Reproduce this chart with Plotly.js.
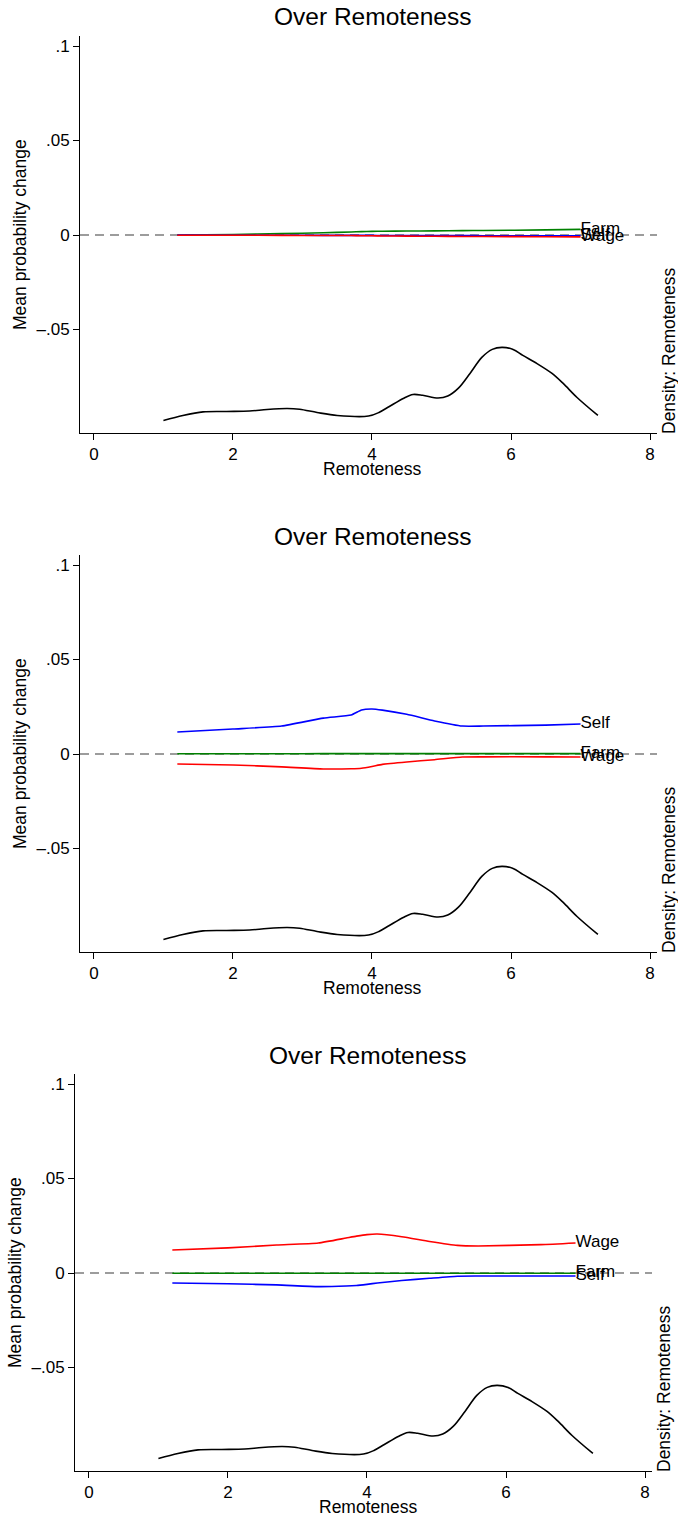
<!DOCTYPE html>
<html>
<head>
<meta charset="utf-8">
<script src="https://cdn.plot.ly/plotly-3.0.1.min.js"></script>
<style>html,body{margin:0;padding:0;background:#fff;}#chart{width:678px;height:1519px;}</style>
</head>
<body>
<div id="chart"></div>
<script>
// ---- data ----
const densX = [1.0, 1.28, 1.57, 1.91, 2.24, 2.49, 2.78, 2.96, 3.21, 3.50, 3.95, 4.10, 4.25, 4.45, 4.59, 4.73, 4.95, 5.09, 5.24, 5.41, 5.58, 5.73, 5.87, 6.03, 6.17, 6.37, 6.59, 6.75, 6.95, 7.25];
const densY = [0.060, 0.085, 0.103, 0.105, 0.107, 0.115, 0.120, 0.116, 0.100, 0.085, 0.082, 0.100, 0.130, 0.170, 0.190, 0.186, 0.172, 0.182, 0.220, 0.295, 0.375, 0.415, 0.425, 0.415, 0.385, 0.345, 0.295, 0.245, 0.175, 0.085];

const gridX = [1.2, 2.0, 2.7, 3.3, 3.7, 3.85, 4.0, 4.15, 4.5, 4.9, 5.3, 5.6, 6.5, 7.0];

// Panel 1
const p1Farm = [0.0000, 0.0003, 0.0007, 0.0012, 0.0016, 0.0018, 0.0019, 0.0020, 0.0021, 0.0022, 0.0023, 0.0024, 0.0027, 0.0030];
const p1Self = [0.0000, -0.0001, -0.0001, -0.0002, -0.0002, -0.0002, -0.0002, -0.0003, -0.0003, -0.0003, -0.0003, -0.0004, -0.0004, -0.0004];
const p1Wage = [-0.0001, -0.0001, -0.0002, -0.0003, -0.0003, -0.0004, -0.0004, -0.0005, -0.0006, -0.0007, -0.0008, -0.0008, -0.0009, -0.0010];
// Panel 2
const p2Farm = [0.0001, 0.0001, 0.0001, 0.0002, 0.0002, 0.0002, 0.0002, 0.0002, 0.0002, 0.0002, 0.0002, 0.0002, 0.0002, 0.0002];
const p2Self = [0.0116, 0.0132, 0.0148, 0.0190, 0.0206, 0.0233, 0.0238, 0.0232, 0.0210, 0.0175, 0.0148, 0.0148, 0.0153, 0.0159];
const p2Wage = [-0.0053, -0.0058, -0.0068, -0.0079, -0.0078, -0.0075, -0.0066, -0.0055, -0.0042, -0.0030, -0.0016, -0.0015, -0.0015, -0.0016];
// Panel 3
const p3Farm = [-0.0001, -0.0001, -0.0001, -0.0001, -0.0001, -0.0001, -0.0001, -0.0001, -0.0001, -0.0001, -0.0001, -0.0001, -0.0001, -0.0001];
const p3Self = [-0.0053, -0.0057, -0.0063, -0.0072, -0.0069, -0.0066, -0.0060, -0.0053, -0.0040, -0.0028, -0.0017, -0.0016, -0.0016, -0.0016];
const p3Wage = [0.0122, 0.0133, 0.0148, 0.0159, 0.0185, 0.0195, 0.0203, 0.0206, 0.0192, 0.0167, 0.0146, 0.0143, 0.0150, 0.0159];

const seriesNames = ["Farm", "Self", "Wage"];
const xTicks = [0, 2, 4, 6, 8];
const yTickVals = [-0.05, 0, 0.05, 0.1];
const yTickText = ["\u2013.05", "0", ".05", ".1"];
const chartTitle = "Over Remoteness";
const xTitle = "Remoteness";
const yTitle = "Mean probability change";
const y2Title = "Density: Remoteness";

// ---- layout geometry ----
const W = 678, H = 1519;
const FONT = "Liberation Sans, Arial, Helvetica, sans-serif";
const colors = {Farm: "#008000", Self: "#0000ff", Wage: "#ff0000"};
const panels = [
  {farm: p1Farm, self: p1Self, wage: p1Wage, left: 80, right: 657, zero: 235},
  {farm: p2Farm, self: p2Self, wage: p2Wage, left: 80, right: 657, zero: 754},
  {farm: p3Farm, self: p3Self, wage: p3Wage, left: 75, right: 652, zero: 1273}
];
const pxPerUnit = 1890;
const yTop = 0.1053, yBot = -0.1045;
const y2Max = 1.98;

const traces = [];
const layout = {
  width: W, height: H,
  margin: {l: 0, r: 0, t: 0, b: 0},
  paper_bgcolor: "#fff", plot_bgcolor: "#fff",
  showlegend: false,
  font: {family: FONT, size: 17, color: "#000"},
  annotations: [], shapes: []
};

panels.forEach((p, i) => {
  const n = i + 1;
  const xa = n === 1 ? "xaxis" : "xaxis" + n;
  const xr = n === 1 ? "x" : "x" + n;
  const yaN = 2 * i + 1, y2N = 2 * i + 2;
  const ya = yaN === 1 ? "yaxis" : "yaxis" + yaN;
  const yr = yaN === 1 ? "y" : "y" + yaN;
  const y2a = "yaxis" + y2N, y2r = "y" + y2N;

  const topPx = p.zero - yTop * pxPerUnit;
  const botPx = p.zero - yBot * pxPerUnit;
  const dom = [1 - botPx / H, 1 - topPx / H];

  layout[xa] = {
    domain: [p.left / W, p.right / W], anchor: yr, range: [-0.2, 8.1],
    tickvals: xTicks, ticks: "outside", ticklen: 6, tickcolor: "#000",
    showline: true, linecolor: "#000", linewidth: 1, showgrid: false, zeroline: false,
    tickfont: {family: FONT, size: 17}, fixedrange: true
  };
  layout[ya] = {
    domain: dom, anchor: xr, range: [yBot, yTop],
    tickvals: yTickVals, ticktext: yTickText, ticks: "outside", ticklen: 6, tickcolor: "#000",
    showline: true, linecolor: "#000", linewidth: 1, showgrid: false, zeroline: false,
    tickfont: {family: FONT, size: 17}, fixedrange: true
  };
  layout[y2a] = {
    domain: dom, anchor: xr, overlaying: yr, side: "right", range: [0, y2Max],
    showticklabels: false, ticks: "", showline: false, showgrid: false, zeroline: false, fixedrange: true
  };

  layout.shapes.push({type: "line", xref: xr + " domain", yref: yr, x0: 0, x1: 1, y0: 0, y1: 0,
    line: {color: "#3a3a3a", width: 1.2, dash: "9px,6px"}, layer: "below"});

  traces.push({x: densX, y: densY, xaxis: xr, yaxis: y2r, type: "scatter", mode: "lines",
    line: {color: "#000", width: 1.6, shape: "spline", smoothing: 0.9}, hoverinfo: "skip"});

  const vals = {Farm: p.farm, Self: p.self, Wage: p.wage};
  seriesNames.forEach(name => {
    const v = vals[name];
    traces.push({
      x: gridX, y: v, xaxis: xr, yaxis: yr, type: "scatter", mode: "lines+text",
      line: {color: colors[name], width: 1.6, shape: "spline", smoothing: 0.5},
      text: gridX.map((_, k) => k === gridX.length - 1 ? name : ""),
      textposition: "middle right", textfont: {family: FONT, size: 17, color: "#000"},
      cliponaxis: false, hoverinfo: "skip", name: name
    });
  });

  const cx = (p.left + p.right) / 2 / W;
  layout.annotations.push({text: chartTitle, xref: "paper", yref: "paper", x: cx + 4 / W, y: 1 - (p.zero - 218) / H,
    xanchor: "center", yanchor: "middle", showarrow: false, font: {family: FONT, size: 24.5}});
  layout.annotations.push({text: xTitle, xref: "paper", yref: "paper", x: cx + 4 / W, y: 1 - (p.zero + 234) / H,
    xanchor: "center", yanchor: "middle", showarrow: false, font: {family: FONT, size: 17.5}});
  layout.annotations.push({text: yTitle, xref: "paper", yref: "paper", x: (p.left - 60) / W, y: 1 - p.zero / H,
    xanchor: "center", yanchor: "middle", textangle: -90, showarrow: false, font: {family: FONT, size: 17.5}});
  layout.annotations.push({text: y2Title, xref: "paper", yref: "paper", x: (p.right + 12) / W, y: 1 - (p.zero + 116) / H,
    xanchor: "center", yanchor: "middle", textangle: -90, showarrow: false, font: {family: FONT, size: 17.5}});
});

Plotly.newPlot("chart", traces, layout, {staticPlot: true, displayModeBar: false});
</script>
</body>
</html>
